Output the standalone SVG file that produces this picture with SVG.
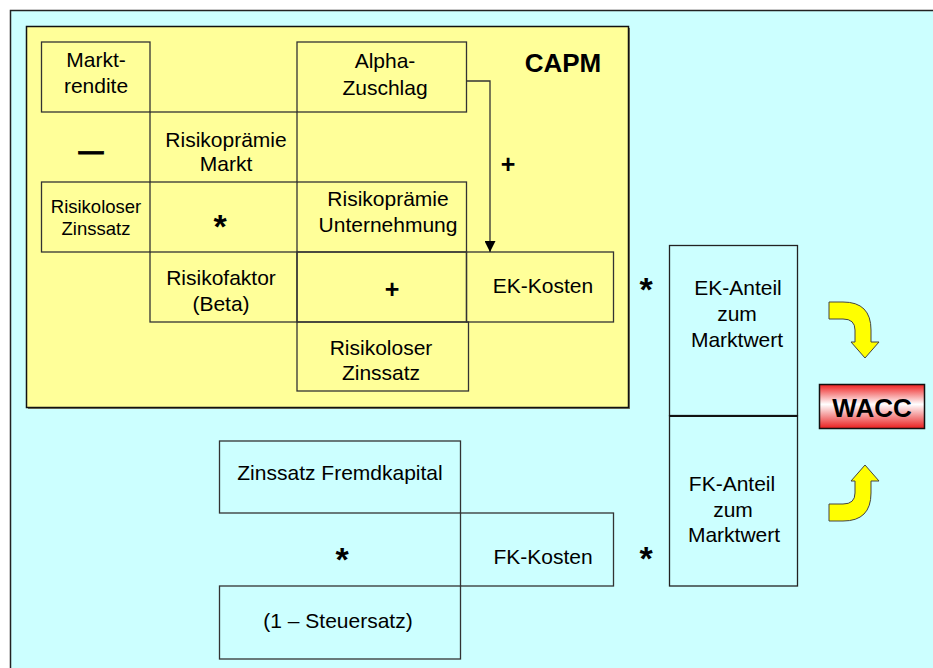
<svg xmlns="http://www.w3.org/2000/svg" width="933" height="668" viewBox="0 0 933 668">
<style>
.t{font-family:"Liberation Sans",Arial,sans-serif;font-size:21px;fill:#000;text-anchor:middle}
.s{font-size:18.5px}
.b{font-weight:bold}
.ast{font-size:34px}
.pl{font-size:25px}
.cell{fill:none;stroke:#333;stroke-width:1.3}
.wbox{fill:none;stroke:#222;stroke-width:1.3}
.ya{fill:#FFFF00;stroke:#444;stroke-width:1}
</style>
<defs>
<linearGradient id="wg" x1="0" y1="0" x2="0" y2="1">
<stop offset="0" stop-color="#EE2222"/>
<stop offset="0.45" stop-color="#FFFFFF"/>
<stop offset="1" stop-color="#E81E1E"/>
</linearGradient>
<marker id="ah" markerWidth="12" markerHeight="11" refX="11" refY="5.5" orient="auto" markerUnits="userSpaceOnUse">
<path d="M0,0 L11,5.5 L0,11 Z" fill="#000"/>
</marker>
</defs>
<rect x="0" y="0" width="933" height="668" fill="#FFFFFF"/>
<rect id="frame" x="10.5" y="10.5" width="930" height="670" fill="#CCFFFF" stroke="#222" stroke-width="1.5"/>
<g id="capm">
<rect x="28" y="28" width="602" height="381" fill="#7A7C68"/>
<rect x="26.5" y="26.5" width="602" height="381" fill="#FFFF99" stroke="#111" stroke-width="1.5"/>
<text class="t b" x="563" y="72" style="font-size:26px">CAPM</text>
</g>
<g id="marktrendite"><rect class="cell" x="41.5" y="42" width="108.5" height="70"/><text class="t" x="96" y="67">Markt-</text><text class="t" x="96" y="93">rendite</text></g>
<g id="alpha"><rect class="cell" x="297" y="42" width="169.5" height="70"/><text class="t" x="385" y="68">Alpha-</text><text class="t" x="385" y="95">Zuschlag</text></g>
<g id="minus"><text class="t b" x="91" y="160" style="font-size:25px;stroke:#000;stroke-width:0.8">—</text></g>
<g id="rp_markt"><rect class="cell" x="150" y="112" width="147" height="70"/><text class="t" x="226" y="147">Risikoprämie</text><text class="t" x="226" y="171">Markt</text></g>
<g id="plus_alpha"><text class="t b pl" x="508" y="173">+</text></g>
<g id="rf_links"><rect class="cell" x="41.5" y="182" width="108.5" height="70"/><text class="t s" x="96" y="213">Risikoloser</text><text class="t s" x="96" y="235">Zinssatz</text></g>
<g id="mal1"><text class="t b ast" x="220" y="238">*</text></g>
<g id="rp_unternehmung"><rect class="cell" x="297" y="182" width="169.5" height="70"/><text class="t" x="388" y="206">Risikoprämie</text><text class="t" x="388" y="232">Unternehmung</text></g>
<g id="beta"><rect class="cell" x="150" y="252" width="147" height="70"/><text class="t" x="221" y="285">Risikofaktor</text><text class="t" x="221" y="311">(Beta)</text></g>
<g id="plus_rf"><rect class="cell" x="297" y="252" width="169.5" height="70"/><text class="t b pl" x="392" y="298">+</text></g>
<g id="ek_kosten"><rect class="cell" x="466.5" y="252" width="147" height="70"/><text class="t" x="543" y="293">EK-Kosten</text></g>
<g id="rf_unten"><rect class="cell" x="297" y="322" width="171.5" height="69"/><text class="t" x="381" y="355">Risikoloser</text><text class="t" x="381" y="380">Zinssatz</text></g>
<g id="mal_ek"><text class="t b ast" x="646" y="301">*</text></g>
<g id="ek_anteil"><rect class="wbox" x="669.5" y="245.5" width="128" height="170"/><text class="t" x="738" y="295">EK-Anteil</text><text class="t" x="737" y="321">zum</text><text class="t" x="737" y="347">Marktwert</text></g>
<g id="fk_anteil"><rect class="wbox" x="669.5" y="416" width="128" height="170"/><line x1="669.5" y1="416" x2="797.5" y2="416" stroke="#111" stroke-width="2"/><text class="t" x="732" y="491">FK-Anteil</text><text class="t" x="733" y="517">zum</text><text class="t" x="734" y="542">Marktwert</text></g>
<g id="mal_fk"><text class="t b ast" x="646" y="570">*</text></g>
<g id="wacc"><rect x="819.5" y="384.5" width="105" height="44" fill="url(#wg)" stroke="#111" stroke-width="1.5"/><text class="t b" x="872" y="417" style="font-size:26px">WACC</text></g>
<g id="zins_fk"><rect class="cell" x="219.5" y="441" width="241" height="72"/><text class="t" x="340" y="480">Zinssatz Fremdkapital</text></g>
<g id="mal_fk2"><text class="t b ast" x="342" y="571">*</text></g>
<g id="fk_kosten"><rect class="cell" x="460.5" y="513" width="153" height="73"/><text class="t" x="543" y="564">FK-Kosten</text></g>
<g id="steuer"><rect class="cell" x="219.5" y="586" width="241" height="73"/><text class="t" x="338" y="628">(1 – Steuersatz)</text></g>
<g id="connectors">
<path d="M466.5,81 L490,81 L490,252" fill="none" stroke="#333" stroke-width="1.3" marker-end="url(#ah)"/>
<path class="ya" d="M829,302 L843,302 Q871,302 871,330 L871,342 L879,342 L865,358 L851,342 L855,342 L855,330 Q855,319 843,319 L829,319 Z"/>
<path class="ya" d="M829,521 L843,521 Q871,521 871,493 L871,481 L879,481 L865,465 L851,481 L855,481 L855,493 Q855,504 843,504 L829,504 Z"/>
</g>
</svg>
